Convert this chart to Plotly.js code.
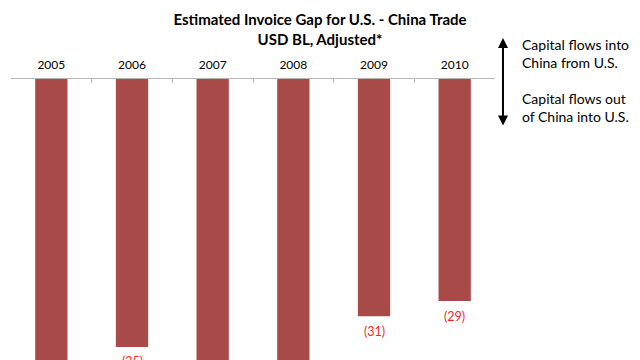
<!DOCTYPE html>
<html>
<head>
<meta charset="utf-8">
<script src="https://cdn.plot.ly/plotly-3.0.1.min.js"></script>
<style>html,body{margin:0;padding:0;background:#fff;}#chart{width:640px;height:360px;}</style>
</head>
<body>
<div id="chart"></div>
<script>
const years = ['2005', '2006', '2007', '2008', '2009', '2010'];
const gapValues = [-40, -35, -45, -48, -31, -29];
const chartTitle = '<b>Estimated Invoice Gap for U.S. - China Trade<br>USD BL, Adjusted*</b>';
const noteTop = 'Capital flows into<br>China from U.S.';
const noteBottom = 'Capital flows out<br>of China into U.S.';

const FONT = 'Lato, "Open Sans", sans-serif';
const yMin = -36.7;

const labelAnn = years.map((y, i) => ({
  x: i, y: gapValues[i], xref: 'x', yref: 'y',
  text: '(' + Math.abs(gapValues[i]) + ')',
  showarrow: false, yshift: -15,
  font: {family: FONT, size: 12.5, color: '#ff1f1f'}
})).filter(a => a.y >= yMin);

const annotations = labelAnn.concat([
  {xref: 'paper', yref: 'paper', x: 1.0165, y: 1.1459, ax: 0, ay: 89,
   axref: 'pixel', ayref: 'pixel', text: '', showarrow: true,
   arrowside: 'end+start', arrowhead: 2, startarrowhead: 2, arrowsize: 1,
   arrowwidth: 2, arrowcolor: '#000'},
  {xref: 'paper', yref: 'paper', x: 1.0517, y: 1.0907, xanchor: 'left', yanchor: 'middle',
   align: 'left', text: noteTop, showarrow: false,
   font: {family: FONT, size: 14, color: '#000'}},
  {xref: 'paper', yref: 'paper', x: 1.0517, y: 0.8968, xanchor: 'left', yanchor: 'middle',
   align: 'left', text: noteBottom, showarrow: false,
   font: {family: FONT, size: 14, color: '#000'}}
]);

const data = [{
  type: 'bar', x: years, y: gapValues,
  marker: {color: '#a84a48'},
  hoverinfo: 'skip'
}];

const layout = {
  width: 640, height: 360,
  margin: {l: 11, r: 145, t: 79, b: 0, pad: 0},
  paper_bgcolor: '#fff', plot_bgcolor: '#fff',
  showlegend: false,
  bargap: 0.6,
  title: {text: chartTitle, x: 0.5, xref: 'container', y: 0.93, yref: 'container',
          yanchor: 'top', font: {family: FONT, size: 15, color: '#000'}},
  xaxis: {
    type: 'category', side: 'top', showgrid: false, zeroline: false,
    range: [-0.5, 5.5], fixedrange: true, tickangle: 0,
    showline: true, linecolor: '#b8b8b8', linewidth: 1,
    ticks: 'inside', ticklen: 4, tickcolor: '#b8b8b8', tickson: 'boundaries',
    tickfont: {family: FONT, size: 12, color: '#000'}, ticklabelstandoff: 4
  },
  yaxis: {range: [yMin, 0], visible: false, showgrid: false, zeroline: false, fixedrange: true},
  annotations: annotations
};

Plotly.newPlot('chart', data, layout, {displayModeBar: false, staticPlot: true});
</script>
</body>
</html>
